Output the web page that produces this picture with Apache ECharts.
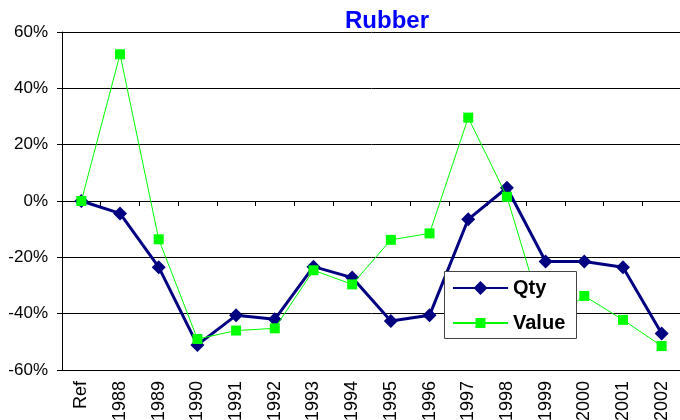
<!DOCTYPE html>
<html>
<head>
<meta charset="utf-8">
<script src="https://cdn.jsdelivr.net/npm/echarts@6/dist/echarts.min.js"></script>
<style>
  html, body { margin: 0; padding: 0; background: #fff; }
  #chart { width: 680px; height: 420px; }
</style>
</head>
<body>
<div id="chart"></div>
<script>
// categories and values (percent)
const years = ['Ref', '1988', '1989', '1990', '1991', '1992', '1993', '1994', '1995', '1996', '1997', '1998', '1999', '2000', '2001', '2002'];
const qty = [0, -4.4, -23.5, -51.1, -40.6, -42.0, -23.3, -27.2, -42.6, -40.6, -6.5, 4.7, -21.5, -21.5, -23.5, -47.0];
const value = [0, 52.1, -13.6, -49.0, -46.0, -45.2, -24.6, -29.6, -13.8, -11.5, 29.6, 1.5, -44.0, -33.7, -42.2, -51.5];

const FONT = 'Liberation Sans, Arial, sans-serif';
const legendText = { fontFamily: FONT, fontWeight: 'bold', fontSize: 20, color: '#000' };

const chart = echarts.init(document.getElementById('chart'), null, { renderer: 'canvas' });

chart.setOption({
  animation: false,
  backgroundColor: '#fff',
  title: {
    text: 'Rubber',
    left: 340,
    top: 4,
    textStyle: { color: '#0000ff', fontFamily: FONT, fontWeight: 'bold', fontSize: 24 }
  },
  // labels are allowed to run off the bottom edge, as in the reference
  grid: { left: 62, right: -1, top: 32, bottom: 50, containLabel: false, outerBoundsMode: 'none' },
  // legend box (white, covers the lines), one legend per row so symbols keep their sizes
  graphic: [{
    type: 'rect',
    left: 444,
    top: 271,
    shape: { width: 132, height: 67 },
    style: { fill: '#fff', stroke: '#444', lineWidth: 1 },
    z: 10
  }],
  legend: [
    {
      data: ['Qty'],
      left: 452, top: 278, padding: 0,
      itemWidth: 55, itemHeight: 17.5,
      textStyle: legendText,
      z: 12
    },
    {
      data: ['Value'],
      left: 452, top: 313, padding: 0,
      itemWidth: 55, itemHeight: 12.5,
      textStyle: legendText,
      z: 12
    }
  ],
  xAxis: [
    {
      type: 'category',
      data: years,
      position: 'bottom',
      axisLine: { onZero: false, lineStyle: { color: '#000', width: 1 } },
      axisTick: { show: false },
      axisLabel: { rotate: 90, margin: 11, fontFamily: FONT, fontSize: 18, color: '#000' },
      splitLine: { show: false }
    },
    {
      // tick marks along the 0% line
      type: 'category',
      data: years,
      position: 'bottom',
      axisLine: { onZero: true, lineStyle: { color: '#000', width: 1 } },
      axisTick: { show: true, length: 5, inside: false, lineStyle: { color: '#000' } },
      axisLabel: { show: false },
      splitLine: { show: false }
    }
  ],
  yAxis: {
    type: 'value',
    min: -60,
    max: 60,
    interval: 20,
    axisLine: { show: true, lineStyle: { color: '#000', width: 1 } },
    axisTick: { show: true, length: 5, lineStyle: { color: '#000' } },
    axisLabel: { formatter: '{value}%', margin: 14, fontFamily: FONT, fontSize: 17, color: '#000' },
    splitLine: { show: true, lineStyle: { color: '#000', width: 1 } }
  },
  series: [
    {
      name: 'Qty',
      type: 'line',
      data: qty,
      symbol: 'diamond',
      symbolSize: 14,
      color: '#000080',
      lineStyle: { width: 3, color: '#000080' },
      itemStyle: { color: '#000080' },
      z: 2
    },
    {
      name: 'Value',
      type: 'line',
      data: value,
      symbol: 'rect',
      symbolSize: 10,
      color: '#00ff00',
      lineStyle: { width: 1, color: '#00ff00' },
      itemStyle: { color: '#00ff00' },
      z: 3
    }
  ]
});
</script>
</body>
</html>
